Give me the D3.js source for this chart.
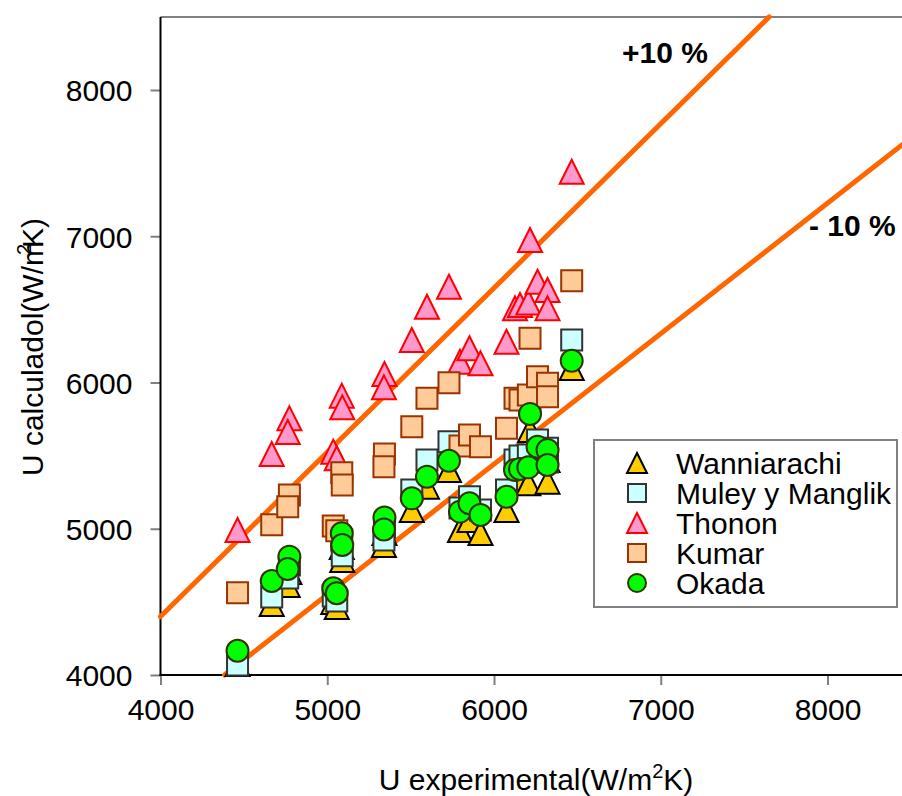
<!DOCTYPE html>
<html>
<head>
<meta charset="utf-8">
<script src="https://cdn.jsdelivr.net/npm/d3@7"></script>
<style>
  html, body { margin: 0; padding: 0; background: #fff; }
  svg { display: block; font-family: "Liberation Sans", Arial, sans-serif; }
</style>
</head>
<body>
<svg id="chart" width="902" height="796"></svg>
<script>
// Measured heat transfer coefficient (W/m²K), one entry per test
const expX = [4462, 4667, 4773, 4763, 5036, 5057, 5087, 5090, 5343, 5340, 5507, 5598, 5730,
              5796, 5853, 5919, 6075, 6126, 6156, 6206, 6216, 6261, 6321, 6321, 6466];

// Coefficient predicted by each correlation for the same tests
const wanniarachi = [4075, 4485, 4704, 4615, 4499, 4465, 4875, 4786, 4971, 4889, 5128, 5288, 5402,
                     4991, 5060, 4971, 5128, 5347, 5327, 5311, 5675, 5504, 5470, 5322, 6099];
const muley       = [4068, 4533, 4752, 4663, 4540, 4506, 4923, 4816, 5012, 4923, 5265, 5470, 5595,
                     5142, 5219, 5128, 5265, 5470, 5497, 5504, 5846, 5607, 5550, 5456, 6291];
const thonon      = [4991, 5511, 5755, 5662, 5527, 5482, 5910, 5830, 6058, 5967, 6291, 6518, 6655,
                     6142, 6234, 6131, 6279, 6507, 6530, 6547, 6974, 6689, 6632, 6507, 7441];
const kumar       = [4563, 5028, 5231, 5151, 5019, 4987, 5383, 5299, 5511, 5424, 5698, 5892, 5999,
                     5566, 5641, 5561, 5687, 5892, 5880, 5915, 6302, 6040, 5995, 5903, 6696];
const okada       = [4166, 4643, 4809, 4725, 4593, 4559, 4969, 4889, 5077, 4995, 5208, 5356, 5465,
                     5117, 5174, 5094, 5219, 5402, 5409, 5420, 5785, 5561, 5538, 5436, 6149];

const seriesNames = ["Wanniarachi", "Muley y Manglik", "Thonon", "Kumar", "Okada"];

// Deviation band limits, as (experimental, calculated) end points
const plus10Line  = [[4000, 4400], [7650, 8500]];
const minus10Line = [[4384, 4000], [8500, 7672]];
const bandLabels  = ["+10 %", "- 10 %"];

const xTicks = [4000, 5000, 6000, 7000, 8000];
const yTicks = [4000, 5000, 6000, 7000, 8000];

// ---------------------------------------------------------------
const svg = d3.select("#chart");
const FONT = 30;

const x = d3.scaleLinear().domain([4000, 8500]).range([160.5, 160.5 + 4.5 * 166.75]);
const y = d3.scaleLinear().domain([4000, 8500]).range([675, 675 - 4.5 * 146.25]);

const styles = [
  { shape: "triangle", fill: "#FFCC00", stroke: "#000000" },
  { shape: "square",   fill: "#CCFFFF", stroke: "#333333" },
  { shape: "triangle", fill: "#FF99CC", stroke: "#FF0000" },
  { shape: "square",   fill: "#FFCC99", stroke: "#993300" },
  { shape: "circle",   fill: "#00FF00", stroke: "#333300" }
];
const seriesValues = [wanniarachi, muley, thonon, kumar, okada];

// Marker path centred on (0,0), s = outer size in px
function markerPath(shape, s) {
  const h = s / 2;
  if (shape === "triangle") return `M0,${-h}L${h},${h}L${-h},${h}Z`;
  if (shape === "square") return `M${-h},${-h}H${h}V${h}H${-h}Z`;
  return d3.arc()({ innerRadius: 0, outerRadius: h, startAngle: 0, endAngle: 2 * Math.PI });
}

// Frame: top border and axis lines
const x0 = x(4000), y0 = y(4000), yTop = y(8500);
svg.append("line").attr("x1", x0).attr("x2", 902).attr("y1", yTop).attr("y2", yTop)
  .attr("stroke", "#808080").attr("stroke-width", 2);

// Axes
const yAxis = d3.axisLeft(y).tickValues(yTicks).tickFormat(d3.format("d"))
  .tickSize(10).tickPadding(18);
const gy = svg.append("g").attr("transform", `translate(${x0},0)`).call(yAxis);
const xAxis = d3.axisBottom(x).tickValues(xTicks).tickFormat(d3.format("d"))
  .tickSize(10).tickPadding(14);
const gx = svg.append("g").attr("transform", `translate(0,${y0})`).call(xAxis);
[gx, gy].forEach(g => {
  g.select(".domain").remove();
  g.selectAll(".tick line").attr("stroke", "#808080").attr("stroke-width", 2);
  g.selectAll(".tick text").attr("fill", "#000").style("font-size", FONT + "px")
    .style("font-family", '"Liberation Sans", Arial, sans-serif');
});
gy.selectAll(".tick text").attr("dy", "0.36em");

svg.append("line").attr("x1", x0).attr("x2", x0).attr("y1", yTop).attr("y2", y0 + 1)
  .attr("stroke", "#000").attr("stroke-width", 2);
svg.append("line").attr("x1", x0 - 1).attr("x2", 902).attr("y1", y0).attr("y2", y0)
  .attr("stroke", "#000").attr("stroke-width", 2);

// ±10 % lines
const lineGen = d3.line().x(d => x(d[0])).y(d => y(d[1]));
[plus10Line, minus10Line].forEach(seg => {
  svg.append("path").attr("d", lineGen(seg)).attr("fill", "none")
    .attr("stroke", "#FF6600").attr("stroke-width", 5).attr("stroke-linecap", "round");
});

// Points, one series after another
seriesValues.forEach((vals, si) => {
  const st = styles[si];
  const size = st.shape === "triangle" ? 24 : (st.shape === "square" ? 21 : 22);
  svg.append("g").selectAll("path").data(vals).join("path")
    .attr("transform", (d, i) => `translate(${x(expX[i])},${y(d)})`)
    .attr("d", markerPath(st.shape, size))
    .attr("fill", st.fill).attr("stroke", st.stroke).attr("stroke-width", 2)
    .attr("stroke-linejoin", "miter");
});

// Band labels
svg.append("text").attr("x", 622).attr("y", 63).text(bandLabels[0])
  .style("font-size", FONT + "px").style("font-weight", "bold");
svg.append("text").attr("x", 809).attr("y", 236).text(bandLabels[1])
  .style("font-size", FONT + "px").style("font-weight", "bold");

// Axis titles
const xt = svg.append("text").attr("x", 536).attr("y", 790).attr("text-anchor", "middle")
  .style("font-size", FONT + "px");
xt.append("tspan").text("U experimental(W/m");
xt.append("tspan").attr("dy", -12).style("font-size", "20px").text("2");
xt.append("tspan").attr("dy", 12).text("K)");

const yt = svg.append("text").attr("transform", "translate(43,347) rotate(-90)")
  .attr("text-anchor", "middle").style("font-size", FONT + "px");
yt.append("tspan").text("U calculadol(W/m");
yt.append("tspan").attr("dx", -14).attr("dy", -12).style("font-size", "20px").text("2");
yt.append("tspan").attr("dx", -4).attr("dy", 12).text("K)");

// Legend
const lg = svg.append("g");
lg.append("rect").attr("x", 594).attr("y", 440).attr("width", 303).attr("height", 167)
  .attr("fill", "#fff").attr("stroke", "#808080").attr("stroke-width", 2);
seriesNames.forEach((name, i) => {
  const cy = 463 + i * 30;
  const st = styles[i];
  lg.append("path").attr("transform", `translate(637,${cy})`)
    .attr("d", markerPath(st.shape, st.shape === "triangle" ? 20 : 18))
    .attr("fill", st.fill).attr("stroke", st.stroke).attr("stroke-width", 2);
  lg.append("text").attr("x", 676).attr("y", cy + 10.5).text(name)
    .style("font-size", FONT + "px");
});
</script>
</body>
</html>
